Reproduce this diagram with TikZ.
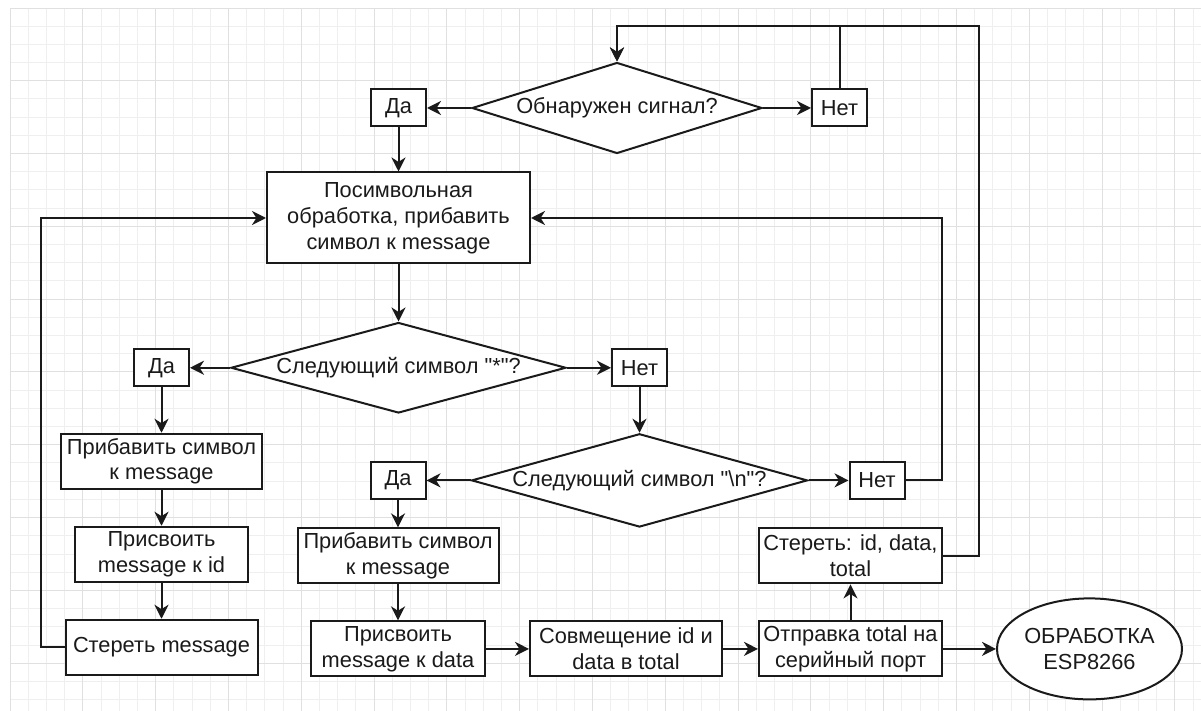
\documentclass[tikz,border=0pt]{standalone}
\usepackage{fontspec}
\setmainfont{Liberation Sans}
\usetikzlibrary{positioning, arrows.meta, shapes.geometric, calc}
\definecolor{gridminor}{HTML}{EFEFEF}
\definecolor{gridmajor}{HTML}{E0E0E0}
\definecolor{linedark}{HTML}{1A1A1A}

\begin{document}
\begin{tikzpicture}[
    every node/.style={font=\fontsize{10.9}{12.9}\selectfont, text=linedark},
    box/.style={
        rectangle, draw=linedark, line width=1pt, fill=white,
        inner sep=0pt, align=center, minimum height=27.5pt
    },
    answer/.style={box, minimum width=27.5pt, minimum height=18.5pt},
    decision/.style={
        diamond, draw=linedark, line width=1pt, fill=white, aspect=3.5,
        inner sep=0pt, align=center, minimum height=45pt
    },
    terminal/.style={
        ellipse, draw=linedark, line width=1pt, fill=white, inner sep=0pt,
        align=center, minimum width=92.5pt, minimum height=50.5pt
    },
    arr/.style={-{Stealth[length=7pt, width=7pt, inset=2.2pt]}, line width=1pt, color=linedark},
]

% Canvas and grid
\useasboundingbox (0,0) rectangle (600.5pt,-355.5pt);
\fill[white] (0,0) rectangle (600.5pt,-355.5pt);
\begin{scope}[shift={(5pt,-4pt)}]
    \draw[gridminor, line width=0.5pt, step=9.1pt] (0,0) grid (595.5pt,-351.5pt);
    \draw[gridmajor, line width=0.5pt, step=36.4pt] (0,0) grid (595.5pt,-351.5pt);
\end{scope}

% Signal check (top)
\node[decision, minimum width=145pt, minimum height=45.5pt] (signal) at (308.5pt,-54pt) {Обнаружен сигнал?};
\node[answer, left=22pt of signal] (yes1) {Да};
\node[answer, right=24pt of signal] (no1) {Нет};

% Per-symbol processing
\node[box, minimum width=131.5pt, minimum height=45.5pt, below=22pt of yes1] (proc)
    {Посимвольная\\обработка, прибавить\\символ к message};

% Check for "*"
\node[decision, minimum width=167.5pt, below=28.5pt of proc] (star)
    {Следующий символ \textquotedbl*\textquotedbl?};
\node[answer, left=20pt of star] (yes2) {Да};
\node[answer, right=22pt of star] (no2) {Нет};

% Check for "\n"
\node[decision, minimum width=168pt, below=22.75pt of no2] (newline)
    {Следующий символ \textquotedbl\textbackslash n\textquotedbl?};
\node[answer, left=22pt of newline] (yes3) {Да};
\node[answer, right=20pt of newline] (no3) {Нет};

% Left branch: id
\node[box, minimum width=100.5pt, below=22.75pt of yes2] (addL) {Прибавить символ\\к message};
\node[box, minimum width=86.5pt, below=18pt of addL] (setid) {Присвоить\\message к id};
\node[box, minimum width=96pt, below=18pt of setid] (clearmsg) {Стереть message};

% Middle branch: data
\node[box, minimum width=100.5pt, below=13.75pt of yes3] (addM) {Прибавить символ\\к message};
\node[box, minimum width=87pt, below=18pt of addM] (setdata) {Присвоить\\message к data};

% Bottom row
\node[box, minimum width=96pt, right=21.5pt of setdata] (merge) {Совмещение id и\\data в total};
\node[box, minimum width=91.5pt, right=17.5pt of merge] (send) {Отправка total на\\серийный порт};
\node[box, minimum width=91.5pt, above=18pt of send] (clearall) {Стереть: id, data,\\total};
\node[terminal, right=26.5pt of send] (esp) {ОБРАБОТКА\\ESP8266};

% ── Arrows ──
\coordinate (loop) at ($(signal.north)+(0,17.75pt)$);
\draw[arr] (signal.west) -- (yes1.east);
\draw[arr] (signal.east) -- (no1.west);
\draw[arr] (no1.north) |- (loop) -- (signal.north);
\draw[arr] (clearall.east) -- ++(18pt,0) |- (loop) -- (signal.north);
\draw[arr] (yes1.south) -- (proc.north);
\draw[arr] (proc.south) -- (star.north);

\draw[arr] (star.west) -- (yes2.east);
\draw[arr] (star.east) -- (no2.west);
\draw[arr] (no2.south) -- (newline.north);
\draw[arr] (newline.west) -- (yes3.east);
\draw[arr] (newline.east) -- (no3.west);
\draw[arr] (no3.east) -- ++(18.25pt,0) |- (proc.east);

\draw[arr] (yes2.south) -- (addL.north);
\draw[arr] (addL.south) -- (setid.north);
\draw[arr] (setid.south) -- (clearmsg.north);
\draw[arr] (clearmsg.west) -- ++(-11.75pt,0) |- (proc.west);

\draw[arr] (yes3.south) -- (addM.north);
\draw[arr] (addM.south) -- (setdata.north);
\draw[arr] (setdata.east) -- (merge.west);
\draw[arr] (merge.east) -- (send.west);
\draw[arr] (send.north) -- (clearall.south);
\draw[arr] (send.east) -- (esp.west);

\end{tikzpicture}
\end{document}
